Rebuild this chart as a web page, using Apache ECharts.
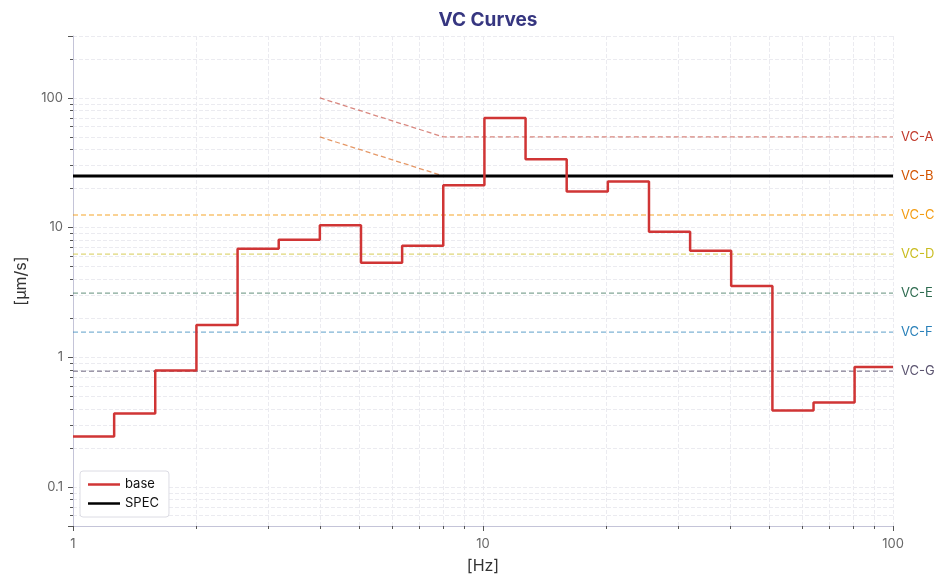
<!DOCTYPE html>
<html>
<head>
<meta charset="utf-8">
<script src="https://cdn.jsdelivr.net/npm/echarts@6/dist/echarts.min.js"></script>
<style>
html, body { margin: 0; padding: 0; background: #fff; }
#main { width: 949px; height: 587px; }
</style>
</head>
<body>
<div id="main"></div>
<script>
// lower edges of the 1/3 octave bands [Hz] (base-2 series), last band runs to 100
var bandEdges = [1, 1.26, 1.587, 2, 2.52, 3.175, 4, 5.04, 6.35, 8, 10.08, 12.7, 16, 20.16, 25.4, 32, 40.3, 50.8, 64, 80.6];
var xMaxHz = 100;
// base velocity per band [um/s]
var baseValues = [0.245, 0.368, 0.79, 1.77, 6.87, 8.07, 10.4, 5.35, 7.25, 21.2, 70, 33.7, 19.0, 22.7, 9.3, 6.63, 3.55, 0.388, 0.448, 0.84];
var specValue = 25;

var vcNames = ["VC-A", "VC-B", "VC-C", "VC-D", "VC-E", "VC-F", "VC-G"];
var vcLevels = [50, 25, 12.5, 6.25, 3.12, 1.56, 0.78];
var vcStartHz = [4, 4, 1, 1, 1, 1, 1];
var vcStartVal = [100, 50, 12.5, 6.25, 3.12, 1.56, 0.78];
var vcKneeHz = [8, 8, null, null, null, null, null];
var vcColors = ["#c0392b", "#d35400", "#f39c12", "#c9bc1f", "#2e6b50", "#2980b9", "#5b5470"];

var echart = echarts.init(document.getElementById('main'));

// step data: each band value starts at its lower edge
var baseData = [];
for (var i = 0; i < baseValues.length; i++) {
	baseData.push([bandEdges[i], baseValues[i]]);
}
baseData.push([xMaxHz, baseValues[baseValues.length - 1]]);

var series = [];
vcNames.forEach(function(name, i){
	var pts = [[vcStartHz[i], vcStartVal[i]]];
	if (vcKneeHz[i]) pts.push([vcKneeHz[i], vcLevels[i]]);
	pts.push([xMaxHz, vcLevels[i]]);
	series.push({
		name: name,
		type: "line",
		data: pts,
		symbol: "none",
		silent: true,
		z: 2,
		lineStyle: { color: vcColors[i], width: 1.3, type: [5, 3], opacity: 0.6 },
		endLabel: {
			show: true,
			formatter: "{a}",
			color: vcColors[i],
			fontFamily: "Inter",
			fontSize: 13,
			distance: 8
		}
	});
});

series.push({
	name: "SPEC",
	type: "line",
	data: [[1, specValue], [xMaxHz, specValue]],
	symbol: "none",
	z: 4,
	lineStyle: { color: "#000", width: 3 },
	itemStyle: { color: "#000" }
});

series.push({
	name: "base",
	type: "line",
	step: "end",
	data: baseData,
	symbol: "none",
	z: 5,
	lineStyle: { color: "#d03535", width: 2.5 },
	itemStyle: { color: "#d03535" }
});

var axisColor = "#c4c4d8";
var gridColor = "#ebebf0";

option = {
	backgroundColor: "#fff",
	animation: false,
	textStyle: { fontFamily: "Inter" },
	title: {
		text: "VC Curves",
		left: 483,
		textAlign: "center",
		top: 6,
		textStyle: { fontFamily: "Inter", fontSize: 19, fontWeight: "bold", color: "#363680" }
	},
	legend: {
		data: ["base", "SPEC"],
		orient: "vertical",
		left: 80,
		top: 471,
		padding: [7, 10, 7, 8],
		itemGap: 6,
		itemWidth: 32,
		itemHeight: 10,
		icon: "path://M0,4 L32,4 L32,6.5 L0,6.5 Z",
		borderColor: "#dcdce4",
		borderWidth: 1,
		borderRadius: 3,
		backgroundColor: "#fff",
		textStyle: { fontFamily: "Inter", fontSize: 13, color: "#111" }
	},
	grid: { left: 73, right: 56, top: 36, bottom: 61 },
	xAxis: {
		type: "log",
		logBase: 10,
		min: 1,
		max: xMaxHz,
		name: "[Hz]",
		nameLocation: "middle",
		nameGap: 32,
		nameTextStyle: { fontFamily: "Inter", fontSize: 16, color: "#333" },
		axisLine: { lineStyle: { color: axisColor } },
		axisTick: { show: true, length: 5, lineStyle: { color: "#555" } },
		minorTick: { show: true, splitNumber: 9, length: 3, lineStyle: { color: "#555" } },
		axisLabel: { color: "#666", fontSize: 13, margin: 12 },
		splitLine: { show: true, lineStyle: { color: gridColor, type: "dashed" } },
		minorSplitLine: { show: true, lineStyle: { color: gridColor, type: "dashed" } }
	},
	yAxis: {
		type: "log",
		logBase: 10,
		min: 0.05,
		max: 300,
		name: "[µm/s]",
		nameLocation: "middle",
		nameGap: 44,
		nameTextStyle: { fontFamily: "Inter", fontSize: 16, color: "#333" },
		axisLine: { show: true, lineStyle: { color: axisColor } },
		axisTick: { show: true, length: 5, lineStyle: { color: "#555" } },
		minorTick: { show: true, splitNumber: 9, length: 3, lineStyle: { color: "#555" } },
		axisLabel: { color: "#666", fontSize: 13, margin: 10, showMinLabel: false, showMaxLabel: false },
		splitLine: { show: true, lineStyle: { color: gridColor, type: "dashed" } },
		minorSplitLine: { show: true, lineStyle: { color: gridColor, type: "dashed" } }
	},
	series: series
};
echart.setOption(option);
</script>
</body>
</html>
